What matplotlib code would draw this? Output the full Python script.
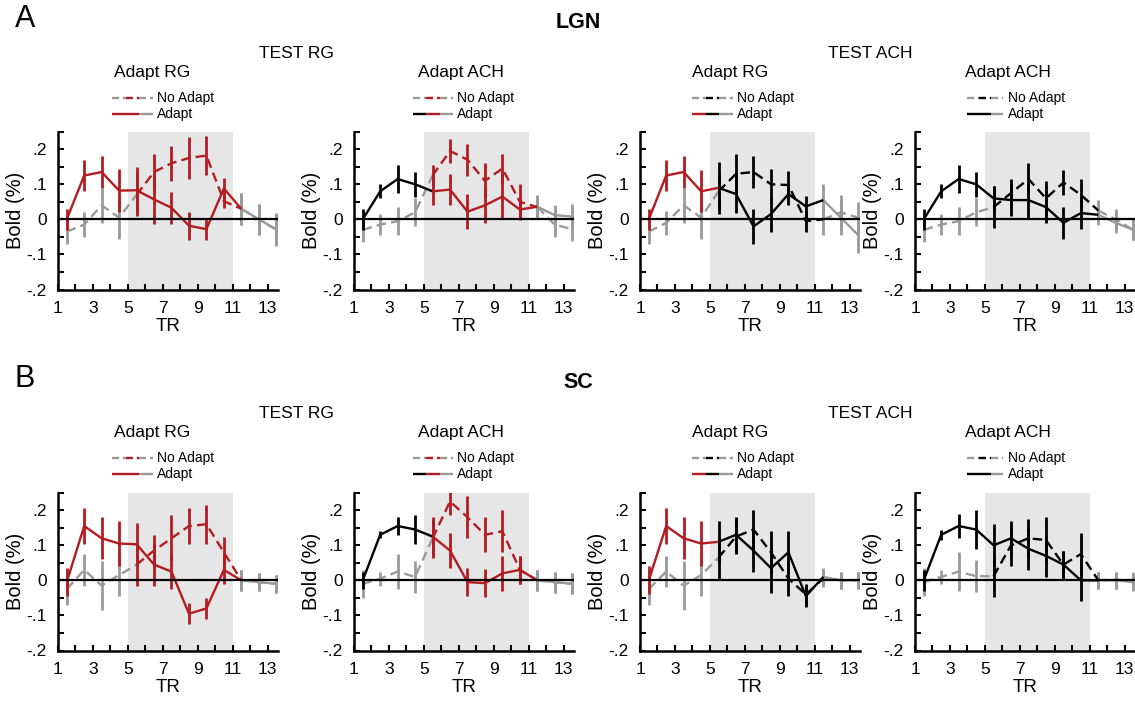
import matplotlib
matplotlib.use('Agg')
import matplotlib.pyplot as plt
from matplotlib.lines import Line2D
from matplotlib.ticker import FixedLocator, FuncFormatter

plt.rcParams['font.family'] = ['Liberation Sans', 'DejaVu Sans']

# ---------------- data ----------------
tr = [1.5, 2.5, 3.5, 4.5, 5.5, 6.5, 7.5, 8.5, 9.5, 10.5, 11.5, 12.5, 13.5]

# LGN, TEST RG, Adapt RG
lgn_rg_rg_noadapt = [-0.035, -0.015, 0.04, 0.005, 0.07, 0.135, 0.16, 0.175, 0.182, 0.052, 0.03, 0.0, -0.03]
lgn_rg_rg_noadapt_err = [0.035, 0.035, 0.05, 0.06, 0.06, 0.05, 0.05, 0.06, 0.055, 0.02, 0.045, 0.045, 0.045]
lgn_rg_rg_adapt = [0.0, 0.125, 0.135, 0.082, 0.083, 0.057, 0.033, -0.018, -0.028, 0.088, 0.03, 0.0, -0.028]
lgn_rg_rg_adapt_err = [0.03, 0.043, 0.045, 0.062, 0.065, 0.07, 0.045, 0.04, 0.03, 0.03, 0.045, 0.045, 0.045]

# LGN, TEST RG, Adapt ACH
lgn_rg_ach_noadapt = [-0.03, -0.015, -0.005, 0.02, 0.125, 0.195, 0.17, 0.11, 0.145, 0.05, 0.035, -0.015, -0.028]
lgn_rg_ach_noadapt_err = [0.035, 0.03, 0.04, 0.04, 0.03, 0.035, 0.045, 0.05, 0.04, 0.05, 0.035, 0.035, 0.035]
lgn_rg_ach_adapt = [0.0, 0.08, 0.115, 0.1, 0.08, 0.085, 0.022, 0.04, 0.065, 0.028, 0.036, 0.012, 0.008]
lgn_rg_ach_adapt_err = [0.03, 0.02, 0.04, 0.035, 0.04, 0.045, 0.05, 0.05, 0.065, 0.03, 0.03, 0.03, 0.035]

# LGN, TEST ACH, Adapt RG
lgn_ach_rg_noadapt = [-0.035, -0.01, 0.04, 0.005, 0.08, 0.13, 0.135, 0.1, 0.098, -0.005, 0.0, 0.02, 0.005]
lgn_ach_rg_noadapt_err = [0.035, 0.035, 0.05, 0.06, 0.05, 0.055, 0.045, 0.045, 0.04, 0.03, 0.045, 0.05, 0.045]
lgn_ach_rg_adapt = [0.0, 0.125, 0.135, 0.08, 0.09, 0.072, -0.02, 0.015, 0.072, 0.037, 0.055, 0.005, -0.045]
lgn_ach_rg_adapt_err = [0.03, 0.045, 0.045, 0.06, 0.075, 0.055, 0.05, 0.05, 0.03, 0.03, 0.045, 0.05, 0.05]

# LGN, TEST ACH, Adapt ACH
lgn_ach_ach_noadapt = [-0.03, -0.015, -0.005, 0.02, 0.035, 0.075, 0.115, 0.06, 0.105, 0.07, 0.025, 0.0, -0.03]
lgn_ach_ach_noadapt_err = [0.035, 0.03, 0.04, 0.04, 0.06, 0.04, 0.045, 0.05, 0.035, 0.045, 0.03, 0.03, 0.03]
lgn_ach_ach_adapt = [0.0, 0.08, 0.115, 0.1, 0.06, 0.055, 0.055, 0.035, -0.01, 0.018, 0.013, -0.01, -0.03]
lgn_ach_ach_adapt_err = [0.03, 0.02, 0.04, 0.035, 0.035, 0.045, 0.05, 0.045, 0.045, 0.045, 0.03, 0.03, 0.03]

# SC, TEST RG, Adapt RG
sc_rg_rg_noadapt = [-0.025, 0.03, -0.015, 0.015, 0.045, 0.085, 0.12, 0.155, 0.16, 0.08, 0.0, -0.005, -0.01]
sc_rg_rg_noadapt_err = [0.045, 0.045, 0.07, 0.06, 0.06, 0.045, 0.065, 0.05, 0.055, 0.045, 0.03, 0.025, 0.025]
sc_rg_rg_adapt = [-0.005, 0.155, 0.12, 0.105, 0.103, 0.045, 0.025, -0.095, -0.08, 0.03, 0.0, -0.005, -0.01]
sc_rg_rg_adapt_err = [0.04, 0.05, 0.06, 0.065, 0.06, 0.06, 0.05, 0.03, 0.03, 0.04, 0.03, 0.025, 0.025]

# SC, TEST RG, Adapt ACH
sc_rg_ach_noadapt = [-0.01, 0.005, 0.025, 0.01, 0.12, 0.225, 0.18, 0.13, 0.14, 0.03, 0.0, -0.005, -0.01]
sc_rg_ach_noadapt_err = [0.04, 0.02, 0.05, 0.045, 0.055, 0.04, 0.06, 0.05, 0.06, 0.04, 0.03, 0.03, 0.03]
sc_rg_ach_adapt = [0.0, 0.13, 0.155, 0.145, 0.125, 0.085, -0.005, -0.008, 0.02, 0.03, 0.0, -0.005, -0.01]
sc_rg_ach_adapt_err = [0.025, 0.01, 0.025, 0.04, 0.055, 0.05, 0.04, 0.04, 0.05, 0.04, 0.03, 0.03, 0.03]

# SC, TEST ACH, Adapt RG
sc_ach_rg_noadapt = [-0.025, 0.025, -0.015, 0.015, 0.065, 0.125, 0.145, 0.08, 0.005, -0.04, 0.005, 0.0, 0.0]
sc_ach_rg_noadapt_err = [0.045, 0.045, 0.07, 0.06, 0.06, 0.05, 0.055, 0.06, 0.05, 0.03, 0.025, 0.025, 0.025]
sc_ach_rg_adapt = [0.0, 0.155, 0.12, 0.105, 0.11, 0.13, 0.085, 0.035, 0.08, -0.045, 0.01, 0.0, 0.0]
sc_ach_rg_adapt_err = [0.04, 0.05, 0.06, 0.065, 0.06, 0.05, 0.06, 0.07, 0.06, 0.03, 0.025, 0.025, 0.025]

# SC, TEST ACH, Adapt ACH
sc_ach_ach_noadapt = [-0.005, 0.01, 0.025, 0.012, 0.012, 0.1, 0.12, 0.115, 0.045, 0.075, 0.0, 0.0, 0.0]
sc_ach_ach_noadapt_err = [0.04, 0.02, 0.055, 0.045, 0.06, 0.06, 0.055, 0.065, 0.04, 0.06, 0.025, 0.025, 0.025]
sc_ach_ach_adapt = [0.0, 0.13, 0.155, 0.145, 0.1, 0.12, 0.09, 0.07, 0.045, 0.0, 0.0, 0.0, -0.005]
sc_ach_ach_adapt_err = [0.03, 0.015, 0.035, 0.055, 0.06, 0.05, 0.06, 0.06, 0.04, 0.06, 0.025, 0.025, 0.025]

regions = ['LGN', 'SC']
region_letters = ['A', 'B']
tests = ['RG', 'RG', 'ACH', 'ACH']
adapters = ['RG', 'ACH', 'RG', 'ACH']
test_block = (5, 11)

panel_series = [
    [(lgn_rg_rg_noadapt, lgn_rg_rg_noadapt_err, lgn_rg_rg_adapt, lgn_rg_rg_adapt_err),
     (lgn_rg_ach_noadapt, lgn_rg_ach_noadapt_err, lgn_rg_ach_adapt, lgn_rg_ach_adapt_err),
     (lgn_ach_rg_noadapt, lgn_ach_rg_noadapt_err, lgn_ach_rg_adapt, lgn_ach_rg_adapt_err),
     (lgn_ach_ach_noadapt, lgn_ach_ach_noadapt_err, lgn_ach_ach_adapt, lgn_ach_ach_adapt_err)],
    [(sc_rg_rg_noadapt, sc_rg_rg_noadapt_err, sc_rg_rg_adapt, sc_rg_rg_adapt_err),
     (sc_rg_ach_noadapt, sc_rg_ach_noadapt_err, sc_rg_ach_adapt, sc_rg_ach_adapt_err),
     (sc_ach_rg_noadapt, sc_ach_rg_noadapt_err, sc_ach_rg_adapt, sc_ach_rg_adapt_err),
     (sc_ach_ach_noadapt, sc_ach_ach_noadapt_err, sc_ach_ach_adapt, sc_ach_ach_adapt_err)],
]

# ---------------- style ----------------
W, H = 1135, 701
RED = '#b31c22'
BLACK = '#000000'
GRAY = '#9a9a9a'
SHADE = '#e6e6e6'
COLOR = {'RG': RED, 'ACH': BLACK}
LW = 1.7
ELW = 2.0
DASH = (4, 2.2)

fig = plt.figure(figsize=(W / 100, H / 100), dpi=100)


def fx(x):
    return x / W


def fy(y):
    return 1 - y / H


col_left = [58, 354, 640, 915]
row_top = [131.7, 492.7]
ax_w, ax_h = 220, 157.8
row_off = [0, 360]
title_cx = [152, 461, 730, 1008]
leg_x0 = [112, 413, 692, 967]
leg_x1 = [153, 453, 733, 1003]
leg_tx = [157, 457, 737, 1008]


def fmt(v, pos):
    if abs(v) < 1e-9:
        return '0'
    s = '%.1f' % v
    return s.replace('0.', '.')


# segment index ranges: (line start, line end incl), (errbar start, end incl)
segments = [((0, 4), (0, 3)), ((4, 10), (4, 9)), ((10, 12), (10, 12))]


def draw_series(ax, y, e, colors, dashed):
    for ((l0, l1), (b0, b1)), c in zip(segments, colors):
        z = 2 if c == GRAY else 3
        ax.plot(tr[l0:l1 + 1], y[l0:l1 + 1], color=c, lw=LW,
                dashes=DASH if dashed else (None, None), zorder=z,
                solid_capstyle='butt')
        xs = tr[b0:b1 + 1]
        lo = [m - d for m, d in zip(y[b0:b1 + 1], e[b0:b1 + 1])]
        hi = [m + d for m, d in zip(y[b0:b1 + 1], e[b0:b1 + 1])]
        ax.vlines(xs, lo, hi, color=c, lw=ELW, zorder=z)


for r in range(2):
    for c in range(4):
        left = col_left[c]
        top = row_top[r]
        ax = fig.add_axes([fx(left), fy(top + ax_h), ax_w / W, ax_h / H])
        ax.set_xlim(1, 13.6)
        ax.set_ylim(-0.2, 0.25)
        ax.axvspan(test_block[0], test_block[1], color=SHADE, zorder=0, lw=0)
        ax.axhline(0, color='black', lw=1.6, zorder=4)
        na, na_e, ad, ad_e = panel_series[r][c]
        tcol = COLOR[tests[c]]
        acol = COLOR[adapters[c]]
        draw_series(ax, na, na_e, [GRAY, tcol, GRAY], True)
        draw_series(ax, ad, ad_e, [acol, tcol, GRAY], False)

        for s in ['top', 'right']:
            ax.spines[s].set_visible(False)
        for s in ['left', 'bottom']:
            ax.spines[s].set_linewidth(1.8)
        ax.xaxis.set_major_locator(FixedLocator([1, 3, 5, 7, 9, 11, 13]))
        ax.xaxis.set_minor_locator(FixedLocator([2, 4, 6, 8, 10, 12]))
        ax.yaxis.set_major_locator(FixedLocator([-0.2, -0.1, 0, 0.1, 0.2]))
        ax.yaxis.set_minor_locator(FixedLocator([-0.15, -0.05, 0.05, 0.15, 0.25]))
        ax.yaxis.set_major_formatter(FuncFormatter(fmt))
        ax.tick_params(which='both', direction='in', length=4, width=1.5,
                       labelsize=12.5)
        ax.tick_params(axis='x', pad=8)
        ax.tick_params(axis='y', pad=8)
        ax.set_xlabel('TR', fontsize=13.5, labelpad=2)
        ax.set_ylabel('Bold (%)', fontsize=14.5)
        ax.yaxis.set_label_coords(-0.15, 0.5)

        # title and legend
        dy = row_off[r]
        fig.text(fx(title_cx[c]), fy(73 + dy), 'Adapt ' + adapters[c],
                 ha='center', va='center', fontsize=12.5)
        x0, x1 = leg_x0[c], leg_x1[c]
        third = (x1 - x0) / 3.0
        for k, col in enumerate([GRAY, tcol, GRAY]):
            fig.add_artist(Line2D([fx(x0 + k * third), fx(x0 + (k + 1) * third)],
                                  [fy(98 + dy)] * 2, color=col, lw=LW,
                                  dashes=(3, 1.6), transform=fig.transFigure))
        for k, col in enumerate([acol, tcol, GRAY]):
            fig.add_artist(Line2D([fx(x0 + k * third), fx(x0 + (k + 1) * third)],
                                  [fy(114 + dy)] * 2, color=col, lw=LW,
                                  solid_capstyle='butt', transform=fig.transFigure))
        fig.text(fx(leg_tx[c]), fy(98 + dy), 'No Adapt', ha='left', va='center', fontsize=10)
        fig.text(fx(leg_tx[c]), fy(114 + dy), 'Adapt', ha='left', va='center', fontsize=10)

    dy = row_off[r]
    fig.text(fx(25), fy(19 + dy), region_letters[r], ha='center', va='center', fontsize=22)
    fig.text(fx(578), fy(22.5 + dy), regions[r], ha='center', va='center',
             fontsize=15.5, fontweight='bold')
    fig.text(fx(296), fy(53.5 + dy), 'TEST RG', ha='center', va='center', fontsize=12.5)
    fig.text(fx(870), fy(53.5 + dy), 'TEST ACH', ha='center', va='center', fontsize=12.5)

fig.savefig('out.png', dpi=100)
